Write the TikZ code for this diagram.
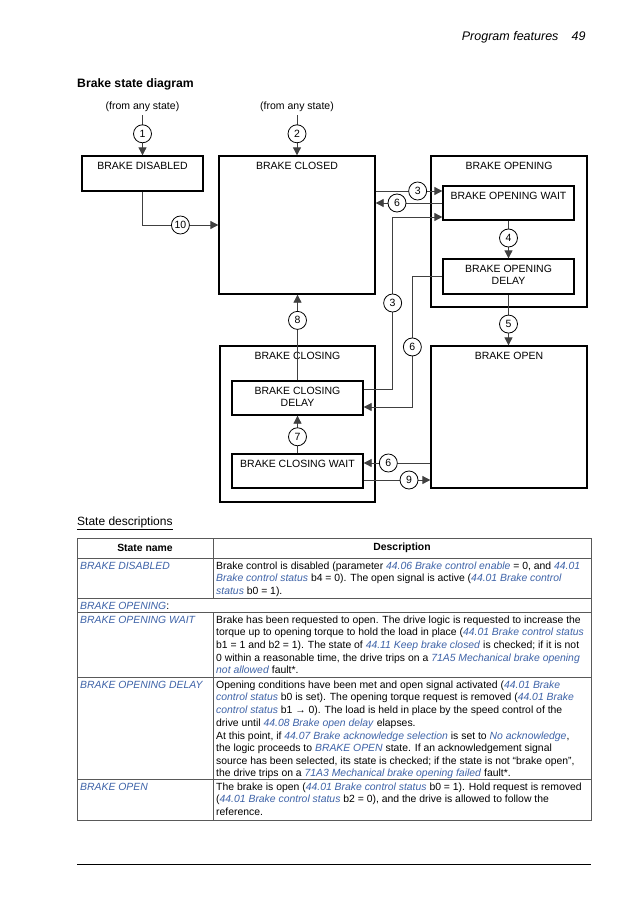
\documentclass[tikz,border=0pt]{standalone}
\usepackage{fontspec}
\setmainfont{Liberation Sans}
\usetikzlibrary{arrows.meta}
\definecolor{linkblue}{RGB}{62,99,168}
\newcommand{\lk}[1]{\textcolor{linkblue}{\textit{#1}}}

\begin{document}
\begin{tikzpicture}[x=1pt,y=-1pt,
    every node/.style={font=\fontsize{10.5}{12.6}\selectfont},
    statebox/.style={draw,line width=1.3pt,inner sep=0pt},
    tag/.style={anchor=north,inner sep=4pt,yshift=-2.5pt,align=center},
    conn/.style={line width=0.8pt,draw=black!75},
    arr/.style={conn,-{Triangle[length=8pt,width=8pt]}},
    num/.style={circle,draw=black,fill=white,line width=0.8pt,inner sep=0pt,minimum size=18pt},
    cell/.style={anchor=north west,inner sep=0pt,align=left,
        font=\fontsize{10.4}{12.6}\selectfont},
    tabline/.style={line width=1pt,draw=black!65}]
    \useasboundingbox (0,0) rectangle (638,907);
    \fill[white] (0,0) rectangle (638,907);
    % page head
    \node[anchor=base east,font=\itshape\fontsize{12.5}{14}\selectfont] (head) at (562,41) {Program features};
    \node[anchor=base east,font=\itshape\fontsize{12.5}{14}\selectfont] (page) at (589,41) {49};
    \node[anchor=base west,inner sep=0pt,font=\bfseries\fontsize{12.2}{14}\selectfont] (title) at (77,87) {Brake state diagram};
    % states
    \node (any1) at (142.5,107) {(from any state)};
    \node (any2) at (297,107) {(from any state)};
    \node[statebox,minimum width=121pt,minimum height=35pt,label={[tag]north:BRAKE DISABLED}] (disabled) at (142.5,173.5) {};
    \node[statebox,minimum width=156pt,minimum height=138pt,label={[tag]north:BRAKE CLOSED}] (closed) at (297,225) {};
    \node[statebox,minimum width=156pt,minimum height=151pt,label={[tag]north:BRAKE OPENING}] (opening) at (509,231.5) {};
    \node[statebox,minimum width=131pt,minimum height=34pt,label={[tag]north:BRAKE OPENING WAIT}] (openwait) at (508.5,203) {};
    \node[statebox,minimum width=131pt,minimum height=35pt,label={[tag]north:{BRAKE OPENING\\DELAY}}] (opendelay) at (508.5,276.5) {};
    \node[statebox,minimum width=155pt,minimum height=156pt,label={[tag]north:BRAKE CLOSING}] (closing) at (297.5,424) {};
    \node[statebox,minimum width=131pt,minimum height=34pt,label={[tag]north:{BRAKE CLOSING\\DELAY}}] (closedelay) at (297.5,398) {};
    \node[statebox,minimum width=131pt,minimum height=34pt,label={[tag]north:BRAKE CLOSING WAIT}] (closewait) at (297.5,471) {};
    \node[statebox,minimum width=156pt,minimum height=142pt,label={[tag]north:BRAKE OPEN}] (open) at (509,417) {};
    % transitions
    \draw[arr] (any1.south) -- node[num,pos=0.46]{1} (disabled.north);
    \draw[arr] (any2.south) -- node[num,pos=0.46]{2} (closed.north);
    \draw[arr] (disabled.south) |- node[num,pos=0.75]{10} (closed.west);
    \coordinate (w3) at ([yshift=12pt]openwait.west);
    \coordinate (w3b) at ([yshift=-14pt]openwait.west);
    \coordinate (d3) at ([yshift=9pt]closedelay.east);
    \coordinate (d6) at ([yshift=-9pt]closedelay.east);
    \coordinate (c6) at ([yshift=8pt]closewait.east);
    \coordinate (c9) at ([yshift=-9pt]closewait.east);
    \draw[arr] (w3 -| closed.east) -- node[num,pos=0.63]{3} (w3);
    \draw[arr] (openwait.west) -- node[num,pos=0.68]{6} (openwait.west -| closed.east);
    \draw[arr] (d3) -- ++(29,0) |- node[num,pos=0.25]{3} (w3b);
    \draw[arr] (opendelay.west) -- ++(-30,0) |- node[num,pos=0.27]{6} (d6);
    \draw[arr] (openwait.south) -- node[num,pos=0.46]{4} (opendelay.north);
    \draw[arr] (opendelay.south) -- node[num,pos=0.58]{5} (opendelay.south |- open.north);
    \draw[arr] (closewait.north) -- node[num,pos=0.44]{7} (closedelay.south);
    \draw[arr] (closedelay.north) -- node[num,pos=0.70]{8} (closedelay.north |- closed.south);
    \draw[arr] (c6 -| open.west) -- node[num,pos=0.63]{6} (c6);
    \draw[arr] (c9) -- node[num,pos=0.68]{9} (c9 -| open.west);
    % state descriptions
    \node[anchor=base west,inner sep=0pt,font=\fontsize{12}{14}\selectfont] (sdesc) at (77,525) {\underline{State descriptions}};
    \draw[tabline] (77,538) rectangle (591,820);
    \foreach \yy in {558,598,612,677,779}
        \draw[tabline] (77,\yy) -- (591,\yy);
    \draw[tabline] (213,538) -- (213,598);
    \draw[tabline] (213,612) -- (213,820);
    \node[font=\bfseries\fontsize{10.4}{12.6}\selectfont] (hname) at (145,548) {State name};
    \node[font=\bfseries\fontsize{10.4}{12.6}\selectfont] (hdesc) at (402,548) {Description};
    \node[cell] (n1) at (80,560.25) {\strut\lk{BRAKE DISABLED}};
    \node[cell] (t1) at (216,560.25) {\strut Brake control is disabled (parameter \lk{44.06 Brake control enable} = 0, and \lk{44.01}\\
        \lk{Brake control status} b4 = 0). The open signal is active (\lk{44.01 Brake control}\\
        \lk{status} b0 = 1).};
    \node[cell] (n2) at (80,600.25) {\strut\lk{BRAKE OPENING}:};
    \node[cell] (n3) at (80,614.25) {\strut\lk{BRAKE OPENING WAIT}};
    \node[cell] (t3) at (216,614.25) {\strut Brake has been requested to open. The drive logic is requested to increase the\\
        torque up to opening torque to hold the load in place (\lk{44.01 Brake control status}\\
        b1 = 1 and b2 = 1). The state of \lk{44.11 Keep brake closed} is checked; if it is not\\
        0 within a reasonable time, the drive trips on a \lk{71A5 Mechanical brake opening}\\
        \lk{not allowed} fault*.};
    \node[cell] (n4) at (80,679.25) {\strut\lk{BRAKE OPENING DELAY}};
    \node[cell] (t4) at (216,679.25) {\strut Opening conditions have been met and open signal activated (\lk{44.01 Brake}\\
        \lk{control status} b0 is set). The opening torque request is removed (\lk{44.01 Brake}\\
        \lk{control status} b1 → 0). The load is held in place by the speed control of the\\
        drive until \lk{44.08 Brake open delay} elapses.\\[0.5pt]
        At this point, if \lk{44.07 Brake acknowledge selection} is set to \lk{No acknowledge},\\
        the logic proceeds to \lk{BRAKE OPEN} state. If an acknowledgement signal\\
        source has been selected, its state is checked; if the state is not “brake open”,\\
        the drive trips on a \lk{71A3 Mechanical brake opening failed} fault*.};
    \node[cell] (n5) at (80,781.25) {\strut\lk{BRAKE OPEN}};
    \node[cell] (t5) at (216,781.25) {\strut The brake is open (\lk{44.01 Brake control status} b0 = 1). Hold request is removed\\
        (\lk{44.01 Brake control status} b2 = 0), and the drive is allowed to follow the\\
        reference.};
    \draw[line width=1pt] (77,864) -- (591,864);
\end{tikzpicture}
\end{document}
